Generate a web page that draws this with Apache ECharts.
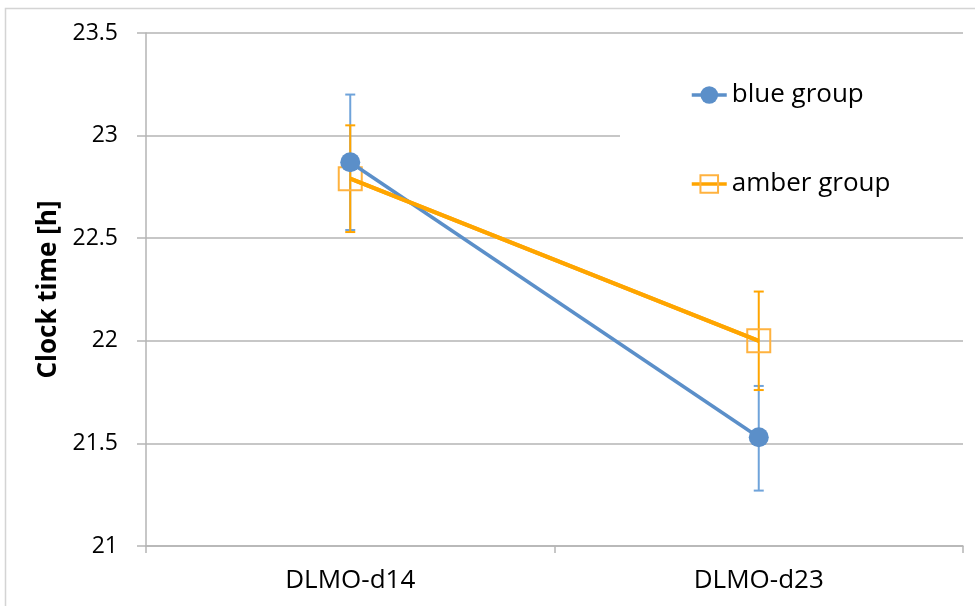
<!DOCTYPE html>
<html>
<head>
<meta charset="utf-8">
<script src="https://cdn.jsdelivr.net/npm/echarts@6/dist/echarts.min.js"></script>
<style>
html,body{margin:0;padding:0;background:#fff;}
#chart{width:975px;height:606px;}
</style>
</head>
<body>
<div id="chart"></div>
<script>
const categories = ['DLMO-d14', 'DLMO-d23'];
const yTicks = [21, 21.5, 22, 22.5, 23, 23.5];
const blueMean = [22.87, 21.53];
const blueLow = [22.54, 21.27];
const blueHigh = [23.20, 21.78];
const amberMean = [22.79, 22.00];
const amberLow = [22.53, 21.76];
const amberHigh = [23.05, 22.24];

const BLUE = '#5B8FC9';
const BLUE_ERR = '#6FA3DA';
const AMBER = '#FFA500';
const AMBER_MARK = '#FFB23F';
const FONT = 'Open Sans';

function errData(low, high) {
  return categories.map((c, i) => [i, low[i], high[i]]);
}
function errRender(color) {
  return function (params, api) {
    const x = api.value(0);
    const lo = api.coord([x, api.value(1)]);
    const hi = api.coord([x, api.value(2)]);
    const w = 5;
    const style = { stroke: color, lineWidth: 2 };
    return {
      type: 'group',
      children: [
        { type: 'line', shape: { x1: lo[0], y1: lo[1], x2: hi[0], y2: hi[1] }, style: style },
        { type: 'line', shape: { x1: hi[0] - w, y1: hi[1], x2: hi[0] + w, y2: hi[1] }, style: style },
        { type: 'line', shape: { x1: lo[0] - w, y1: lo[1], x2: lo[0] + w, y2: lo[1] }, style: style }
      ]
    };
  };
}

const chart = echarts.init(document.getElementById('chart'), null, { renderer: 'canvas' });
chart.setOption({
  animation: false,
  backgroundColor: '#fff',
  graphic: [{
    type: 'rect', silent: true, z: -10,
    shape: { x: 5.5, y: 8.5, width: 1200, height: 1200 },
    style: { fill: 'none', stroke: '#D4D4D4', lineWidth: 1.5 }
  }],
  grid: { left: 146, right: 12, top: 33, bottom: 60, containLabel: false },
  legend: {
    data: ['blue group', 'amber group'],
    orient: 'vertical',
    left: 620, top: 57,
    padding: [25, 90, 25, 70],
    itemGap: 63,
    itemWidth: 35, itemHeight: 22,
    backgroundColor: '#fff',
    lineStyle: { width: 3.5 },
    textStyle: { fontFamily: FONT, fontSize: 26, color: '#000' }
  },
  xAxis: {
    type: 'category',
    data: categories,
    boundaryGap: true,
    axisLine: { lineStyle: { color: '#B5B5B5', width: 1.5 } },
    axisTick: { show: true, length: 7, lineStyle: { color: '#B5B5B5', width: 1.5 } },
    axisLabel: { fontFamily: FONT, fontSize: 26, color: '#000', margin: 22 },
    splitLine: { show: false }
  },
  yAxis: {
    type: 'value',
    min: yTicks[0], max: yTicks[yTicks.length - 1], interval: 0.5,
    name: 'Clock time [h]',
    nameLocation: 'middle',
    nameGap: 81,
    nameTextStyle: { fontFamily: FONT, fontSize: 26, fontWeight: 'bold', color: '#000' },
    axisLine: { show: true, lineStyle: { color: '#B5B5B5', width: 1.5 } },
    axisTick: { show: true, length: 9, lineStyle: { color: '#B5B5B5', width: 1.5 } },
    axisLabel: { fontFamily: FONT, fontSize: 23, color: '#000', margin: 28 },
    splitLine: { show: true, lineStyle: { color: '#B5B5B5', width: 1.5 } }
  },
  series: [
    {
      name: 'blue err', type: 'custom', z: 2,
      renderItem: errRender(BLUE_ERR),
      data: errData(blueLow, blueHigh)
    },
    {
      name: 'amber err', type: 'custom', z: 3,
      renderItem: errRender(AMBER),
      data: errData(amberLow, amberHigh)
    },
    {
      name: 'amber group', type: 'line', z: 4,
      data: amberMean,
      symbol: 'rect', symbolSize: 23,
      lineStyle: { color: AMBER, width: 4 },
      itemStyle: { color: 'rgba(255,255,255,0)', borderColor: AMBER_MARK, borderWidth: 2 }
    },
    {
      name: 'blue group', type: 'line', z: 5,
      data: blueMean,
      symbol: 'circle', symbolSize: 20,
      lineStyle: { color: BLUE, width: 3.5 },
      itemStyle: { color: BLUE, borderWidth: 0 }
    },
    {
      name: 'amber overlay', type: 'line', z: 6,
      data: amberMean,
      symbol: 'none',
      lineStyle: { color: AMBER, width: 4 },
      tooltip: { show: false }
    }
  ]
});
</script>
</body>
</html>
